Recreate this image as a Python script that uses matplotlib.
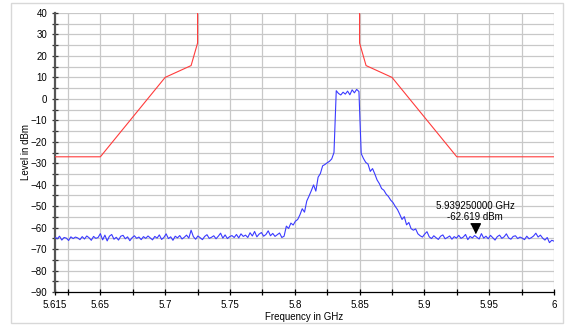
import numpy as np
import matplotlib
matplotlib.use('Agg')
import matplotlib.pyplot as plt
from matplotlib.patches import Rectangle

plt.rcParams['font.family'] = ['Liberation Sans', 'DejaVu Sans']

# sweep settings
f_start = 5.615
f_stop = 6.0

# measured trace (dBm), one value per sweep point
level = [
    -64.5, -65.2, -64.0, -65.8, -64.6, -64.9, -66.0, -64.3, -65.1, -64.4,
    -64.8, -65.6, -64.2, -65.3, -63.9, -64.7, -65.9, -64.1, -65.0, -64.6,
    -62.8, -65.7, -63.5, -66.2, -64.0, -63.2, -65.4, -64.5, -65.8, -64.0,
    -63.6, -65.2, -64.3, -66.1, -64.7, -63.8, -65.0, -64.4, -65.6, -64.2,
    -65.0, -63.9, -64.8, -65.7, -64.1, -64.9, -63.4, -65.5, -64.6, -62.9,
    -65.1, -64.3, -65.9, -64.0, -64.8, -63.7, -65.3, -64.5, -63.5, -64.9,
    -61.2, -64.2, -65.4, -63.9, -64.7, -65.6, -64.1, -63.3, -65.0, -64.5,
    -63.8, -65.2, -64.0, -62.6, -64.9, -63.4, -65.1, -64.2, -63.7, -64.6,
    -63.2, -64.8, -62.9, -64.1, -63.5, -64.6, -62.4, -63.9, -61.8, -64.3,
    -63.0, -62.3, -64.0, -63.2, -61.5, -63.8, -62.7, -64.1, -63.3, -62.5,
    -64.6, -64.0, -59.3, -60.4, -57.9, -58.8, -57.0, -56.2, -54.0, -51.2,
    -52.8, -47.6, -45.3, -42.8, -40.1, -43.0, -36.5, -34.8, -31.2, -30.6,
    -29.8, -29.1, -28.0, -25.0, 3.8, 2.5, 1.8, 3.1, 2.2, 3.6,
    1.9, 4.2, 2.8, 4.4, 3.4, -25.5, -27.8, -29.6, -30.4, -33.8,
    -32.5, -35.0, -37.8, -39.5, -41.8, -42.6, -44.4, -45.5, -47.2, -48.3,
    -50.1, -51.6, -53.8, -56.2, -54.9, -58.7, -57.6, -60.5, -61.2, -60.6,
    -62.9, -63.8, -64.4, -63.0, -61.9,
    -64.3, -65.1, -63.8, -64.7, -65.5, -64.0, -63.4, -65.2, -64.6, -63.9,
    -65.4, -64.2, -64.9, -63.6, -65.0, -64.4, -63.2, -65.6, -64.1, -64.8,
    -63.7, -64.5, -65.3, -62.8, -64.9, -64.0, -65.2, -63.6, -64.7, -65.8,
    -64.2, -63.5, -65.0, -64.3, -62.9, -64.8, -65.4, -64.1, -63.8, -65.1,
    -64.4, -64.9, -65.6, -64.0, -65.2, -64.7, -63.9, -62.6, -64.4, -63.5,
    -64.9, -65.8, -64.6, -67.0, -65.9, -66.3,
]
freq = np.linspace(f_start, f_stop, len(level))

# spectrum emission mask (limit line)
mask_freq = [5.615, 5.65, 5.70, 5.72, 5.725, 5.725, np.nan,
             5.85, 5.85, 5.855, 5.875, 5.925, 6.0]
mask_level = [-27, -27, 10, 15.5, 26, 40, np.nan,
              40, 26, 15.5, 10, -27, -27]

# marker
marker_freq = 5.93925
marker_level = -62.619

fig = plt.figure(figsize=(5.66, 3.29), dpi=100)
fig.patches.append(Rectangle((10.5 / 566, 1 - 323 / 329), 552 / 566, 320 / 329,
                             transform=fig.transFigure, fill=False,
                             edgecolor='#d8d8d8', linewidth=1))
ax = fig.add_axes([55 / 566, 1 - 292 / 329, 499 / 566, 279 / 329])

ax.set_xlim(f_start, f_stop)
ax.set_ylim(-90, 40)

ax.set_xticks([5.615] + [round(5.65 + 0.05 * k, 3) for k in range(8)])
ax.set_xticklabels(['5.615', '5.65', '5.7', '5.75', '5.8', '5.85', '5.9', '5.95', '6'])
ax.set_xticks([round(5.625 + 0.05 * k, 3) for k in range(8)], minor=True)
ax.set_yticks(np.arange(-90, 41, 10))
ax.set_yticks(np.arange(-85, 40, 10), minor=True)

# grid
for x in np.arange(5.625, 6.001, 0.025):
    ax.axvline(x, color='#c8c8c8', linewidth=0.9, zorder=0)
for y in np.arange(-85, 41, 5):
    ax.axhline(y, color='#c8c8c8', linewidth=0.9, zorder=0)

ax.plot(mask_freq, mask_level, color='#ff3b3b', linewidth=0.8, zorder=3)
ax.plot(freq, level, color='#3a3aff', linewidth=0.8, zorder=4)

ax.plot(marker_freq, marker_level, linestyle='none',
        marker=[(-0.5, 1), (0.5, 1), (0, 0)], markersize=14,
        color='black', zorder=5)
ax.annotate(f'{marker_freq:.9f} GHz\n{marker_level:.3f} dBm',
            (marker_freq, marker_level), xytext=(0, 8), textcoords='offset points',
            ha='center', va='bottom', fontsize=7, linespacing=1.15, zorder=6)

for s in ['top', 'right']:
    ax.spines[s].set_visible(False)
ax.spines['left'].set_color('#555555')
ax.spines['left'].set_linewidth(1.6)
ax.spines['bottom'].set_color('black')
ax.spines['bottom'].set_linewidth(0.9)

ax.tick_params(axis='both', which='major', direction='inout', length=5,
               width=0.9, labelsize=7, colors='black', pad=3)
ax.tick_params(axis='both', which='minor', direction='inout', length=4,
               width=0.9, colors='black')
ax.tick_params(axis='y', which='both', colors='#333333', labelcolor='black')

ax.set_xlabel('Frequency in GHz', fontsize=7, labelpad=1.5)
ax.set_ylabel('Level in dBm', fontsize=7, labelpad=0)

fig.savefig('out.png', dpi=100)
